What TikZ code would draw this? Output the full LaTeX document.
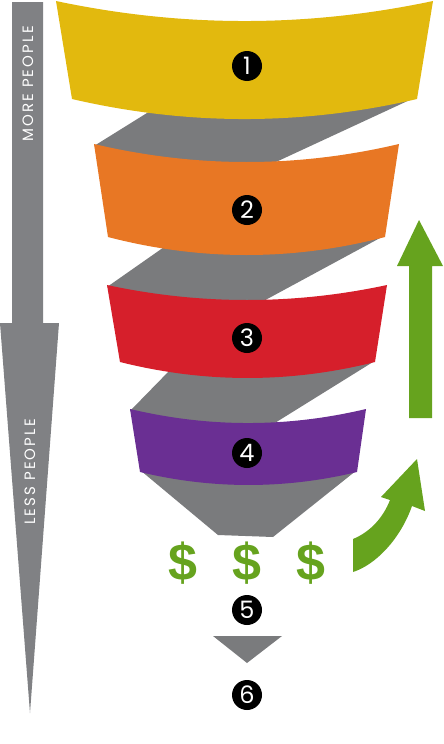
\documentclass[tikz,border=0pt]{standalone}
\usepackage{fontspec}
\setmainfont{Poppins}
\newfontfamily\sidefont{Poppins}[LetterSpace=14]
\newfontfamily\dollarfont{Liberation Sans}
\usetikzlibrary{positioning}
\definecolor{sidegray}{RGB}{128,129,132}
\definecolor{funnelgray}{RGB}{122,123,125}
\definecolor{bandyellow}{RGB}{226,185,14}
\definecolor{bandorange}{RGB}{232,119,36}
\definecolor{bandred}{RGB}{214,31,43}
\definecolor{bandpurple}{RGB}{106,47,147}
\definecolor{moneygreen}{RGB}{102,163,30}

\begin{document}
\begin{tikzpicture}[x=1pt,y=-1pt,
    num/.style={circle,fill=black,text=white,minimum size=30pt,inner sep=0pt,
      font=\fontsize{24}{24}\selectfont},
    side/.style={text=white,rotate=90,font=\sidefont\fontsize{15}{15}\selectfont},
    dollar/.style={text=moneygreen,inner sep=0pt,
      font=\dollarfont\bfseries\fontsize{52}{52}\selectfont}]
  \useasboundingbox (0,0) rectangle (444,744);

  % people arrow
  \fill[sidegray] (12,2) -- (43,2) -- (43,323) -- (59,323) -- (30,713)
    -- (0,323) -- (12,323) -- cycle;
  \node[side] (more) at (28,84) {MORE PEOPLE};
  \node[side] (less) at (30,472) {LESS PEOPLE};

  % gray ribbon behind the bands
  \fill[funnelgray] (155,108) -- (414,98) -- (263,168) -- (160,172) -- (94,146) -- cycle;
  \fill[funnelgray] (167,245) -- (380,238) -- (258,304) -- (170,308) -- (107,287) -- cycle;
  \fill[funnelgray] (172,368) -- (373,362) -- (270,426) -- (190,428) -- (130,411) -- cycle;
  \fill[funnelgray] (140,470) -- (357,470) -- (273,537) -- (218,535) -- cycle;

  % bands
  \fill[bandyellow] (56,1) .. controls (182,27.7) and (307,27.7) .. (433,1)
    -- (417,99) .. controls (302,125.7) and (187,125.7) .. (72,99) -- cycle;
  \fill[bandorange] (94,144) .. controls (196,168) and (297,168) .. (399,144)
    -- (385,237) .. controls (293,261) and (200,261) .. (108,237) -- cycle;
  \fill[bandred] (107,285) .. controls (200,305) and (294,305) .. (387,285)
    -- (375,362) .. controls (290,383.3) and (205,383.3) .. (120,362) -- cycle;
  \fill[bandpurple] (130,409) .. controls (209,427.7) and (287,427.7) .. (366,409)
    -- (357,472) .. controls (285,489.3) and (212,489.3) .. (140,472) -- cycle;

  \node[num] (n1) at (247,66) {1};
  \node[num] (n2) at (247,210) {2};
  \node[num] (n3) at (247,338) {3};
  \node[num] (n4) at (247,453) {4};

  % money
  \node[dollar] (d2) at (247,563) {\$};
  \node[dollar,left=35pt of d2] (d1) {\$};
  \node[dollar,right=35pt of d2] (d3) {\$};

  \node[num] (n5) at (247,610) {5};
  \fill[funnelgray] (213,636) -- (282,636) -- (247,663) -- cycle;
  \node[num] (n6) at (247,695) {6};

  % growth arrows
  \fill[moneygreen] (409,418) -- (409,266) -- (397,266) -- (419,220)
    -- (443,266) -- (432,266) -- (432,418) -- cycle;
  \fill[moneygreen] (353,539) .. controls (370,532) and (383,518) .. (390,500)
    -- (381,497) -- (417,459) -- (425,511) -- (412,506)
    .. controls (400,540) and (375,565) .. (353,572) -- cycle;
\end{tikzpicture}
\end{document}
